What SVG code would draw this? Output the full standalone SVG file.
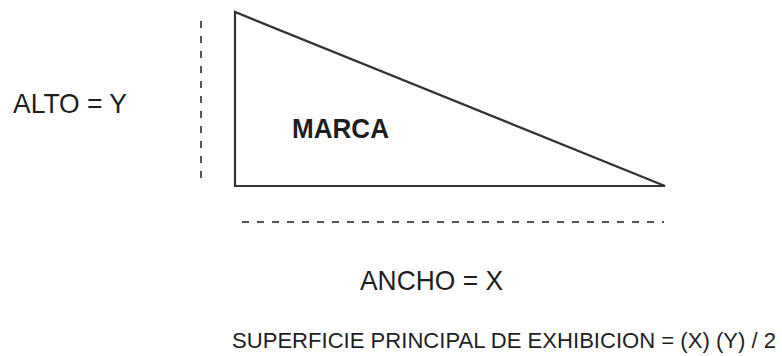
<svg xmlns="http://www.w3.org/2000/svg" width="782" height="356" viewBox="0 0 782 356">
<style>
text{font-family:"Liberation Sans",Arial,sans-serif;fill:#1e1e1e}
.dash{stroke:#555;stroke-width:2;stroke-dasharray:7 8;fill:none}
</style>
<rect width="782" height="356" fill="#fff"/>
<g id="triangle">
<polygon points="235,12 235,186 665,186" fill="#fff" stroke="#333" stroke-width="2.2" stroke-linejoin="miter"/>
<text x="292" y="138" font-size="28" font-weight="bold" textLength="97" lengthAdjust="spacingAndGlyphs">MARCA</text>
</g>
<g id="dimensions">
<line class="dash" x1="201" y1="21" x2="201" y2="186"/>
<line class="dash" x1="242" y1="222" x2="664" y2="222"/>
</g>
<g id="labels">
<text x="13" y="113" font-size="28" textLength="114" lengthAdjust="spacingAndGlyphs">ALTO = Y</text>
<text x="360" y="290" font-size="28" textLength="143" lengthAdjust="spacingAndGlyphs">ANCHO = X</text>
<text x="232" y="348" font-size="22" textLength="544" lengthAdjust="spacingAndGlyphs">SUPERFICIE PRINCIPAL DE EXHIBICION = (X) (Y) / 2</text>
</g>
</svg>
